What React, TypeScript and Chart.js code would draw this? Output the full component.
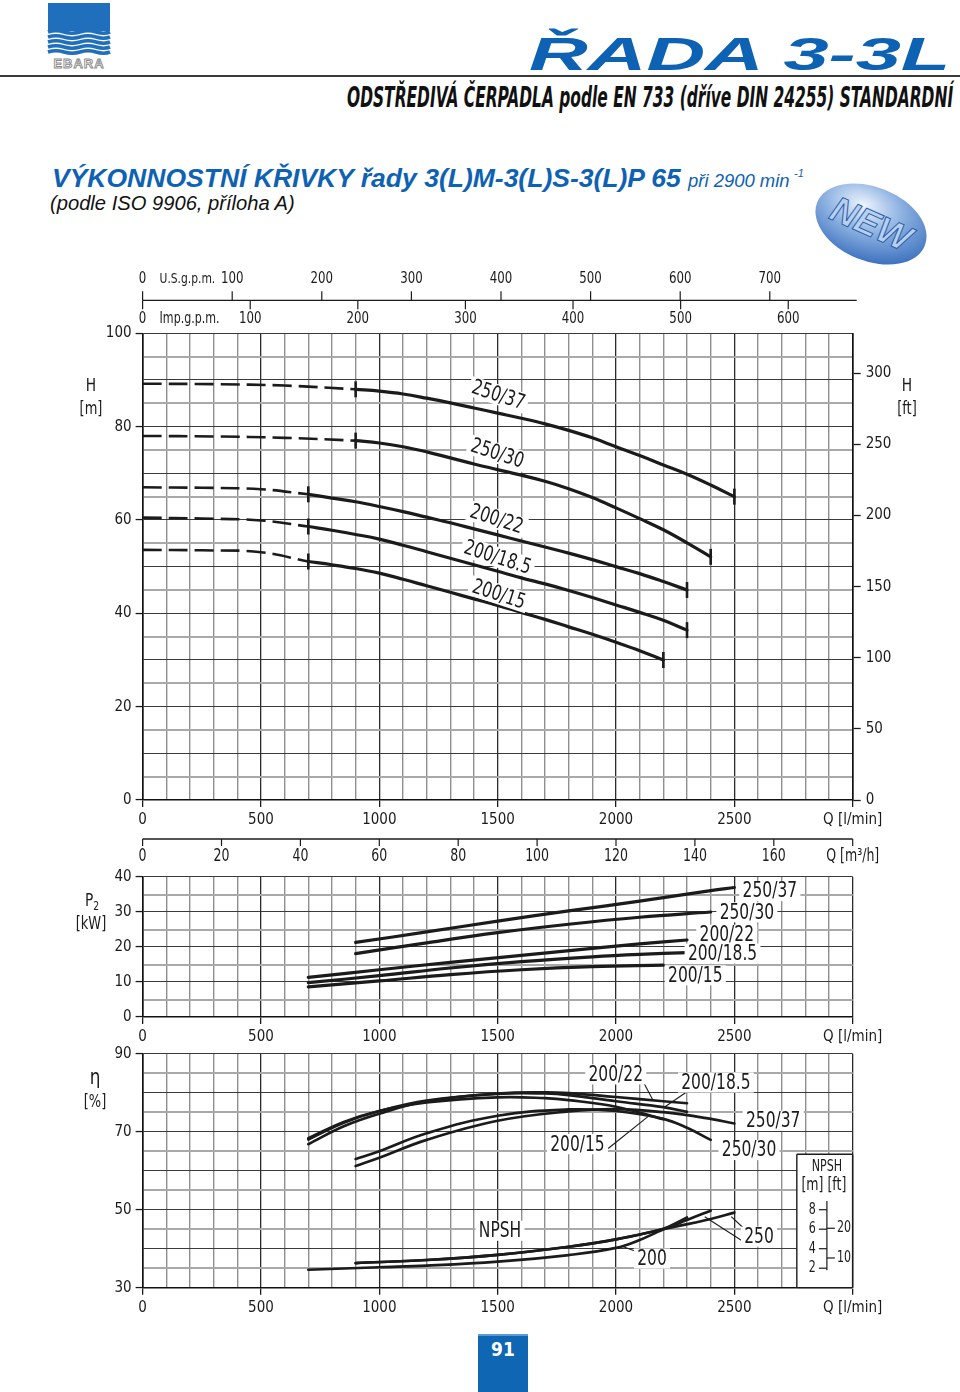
import React, { useEffect, useLayoutEffect, useRef, useState } from "react";
import { Chart, registerables } from "chart.js";

Chart.register(...registerables);

const FONT = "'Liberation Sans Narrow', 'DejaVu Sans Condensed', 'Liberation Sans', Arial, sans-serif";
const SANS = "'Liberation Sans', Arial, sans-serif";
const BLUE = "#0e62b3";
const INK = "#1b1b1b";
const NARROW = 0.82;

// ---------- flow axis (l/min) ----------
const Q_MAX = 3000;
const Q_STEP = 100;
const Q_LABEL_STEP = 500;

// secondary flow units
const LPM_PER_USGPM = 3.785411784;
const LPM_PER_IMPGPM = 4.54609;
const LPM_PER_M3H = 1000 / 60;
const M_PER_FT = 0.3048;
const US_GPM_TICKS = [0, 100, 200, 300, 400, 500, 600, 700];
const IMP_GPM_TICKS = [0, 100, 200, 300, 400, 500, 600];
const M3H_TICKS = [0, 20, 40, 60, 80, 100, 120, 140, 160, 180];
const FT_STEP = 50;
const NPSH_M_TICKS = [2, 4, 6, 8];
const NPSH_FT_TICKS = [10, 20];

// ---------- H-Q : shut-off (dashed) parts ----------
const Q_SHUT_250 = [0, 300, 600, 900];
const H_SHUT_250_37 = [89.2, 89.1, 88.8, 88.0];
const H_SHUT_250_30 = [78.0, 77.9, 77.6, 77.0];
const Q_SHUT_200 = [0, 250, 500, 700];
const H_SHUT_200_22 = [67.0, 66.9, 66.6, 65.5];
const H_SHUT_200_18 = [60.5, 60.3, 59.9, 58.6];
const H_SHUT_200_15 = [53.6, 53.5, 53.1, 51.1];

// ---------- H-Q : operating range ----------
const Q_H_250_37 = [900, 1000, 1100, 1200, 1300, 1400, 1500, 1600, 1700, 1800, 1900, 2000, 2100, 2200, 2300, 2400, 2500];
const H_250_37 = [88.0, 87.6, 87.0, 86.1, 85.1, 84.0, 82.9, 81.8, 80.6, 79.2, 77.6, 75.7, 73.8, 71.8, 69.8, 67.5, 65.0];
const Q_H_250_30 = [900, 1000, 1100, 1200, 1300, 1400, 1500, 1600, 1700, 1800, 1900, 2000, 2100, 2200, 2300, 2400];
const H_250_30 = [77.0, 76.5, 75.7, 74.6, 73.3, 72.0, 70.8, 69.6, 68.3, 66.7, 64.8, 62.6, 60.3, 57.9, 55.1, 52.1];
const Q_H_200 = [700, 800, 900, 1000, 1100, 1200, 1300, 1400, 1500, 1600, 1700, 1800, 1900, 2000, 2100, 2200, 2300];
const H_200_22 = [65.5, 64.7, 63.9, 62.9, 61.8, 60.6, 59.4, 58.1, 56.8, 55.5, 54.2, 52.9, 51.5, 50.0, 48.5, 46.8, 45.0];
const H_200_18 = [58.6, 57.8, 56.9, 55.9, 54.6, 53.2, 51.8, 50.4, 49.0, 47.6, 46.3, 44.9, 43.4, 41.8, 40.2, 38.5, 36.4];
const Q_H_200_15 = [700, 800, 900, 1000, 1100, 1200, 1300, 1400, 1500, 1600, 1700, 1800, 1900, 2000, 2100, 2200];
const H_200_15 = [51.1, 50.4, 49.6, 48.6, 47.3, 45.9, 44.5, 43.1, 41.7, 40.2, 38.7, 37.1, 35.5, 33.8, 32.0, 30.0];

const H_LABELS = [
  { text: "250/37", q: 1503, v: 86.8 },
  { text: "250/30", q: 1499, v: 74.3 },
  { text: "200/22", q: 1496, v: 60.2 },
  { text: "200/18.5", q: 1500, v: 52.0 },
  { text: "200/15", q: 1505, v: 44.1 },
];
const H_LABEL_ANGLE = 18;

// ---------- P2-Q ----------
const Q_P_250_37 = [900, 1200, 1500, 1800, 2100, 2400, 2500];
const P_250_37 = [21.3, 24.3, 27.4, 30.3, 33.1, 36.1, 37.0];
const Q_P_250_30 = [900, 1200, 1500, 1800, 2100, 2400];
const P_250_30 = [18.1, 21.2, 24.1, 26.5, 28.5, 30.0];
const Q_P_200 = [700, 1000, 1300, 1600, 1900, 2100, 2300];
const P_200_22 = [11.3, 13.5, 15.6, 17.6, 19.6, 20.9, 22.0];
const P_200_18 = [9.8, 11.8, 14.0, 15.8, 17.2, 17.9, 18.4];
const Q_P_200_15 = [700, 1000, 1300, 1600, 1900, 2200];
const P_200_15 = [8.6, 10.3, 12.1, 13.5, 14.4, 14.8];

const P_LABELS = [
  { text: "250/37", q: 2650, v: 36.0 },
  { text: "250/30", q: 2553, v: 29.9 },
  { text: "200/22", q: 2468, v: 23.5 },
  { text: "200/18.5", q: 2450, v: 18.1 },
  { text: "200/15", q: 2335, v: 11.9 },
];

// ---------- efficiency ----------
const Q_E_200 = [700, 850, 1000, 1200, 1500, 1700, 1800, 2000, 2200, 2300];
const E_200_22 = [66.8, 71.4, 74.6, 77.8, 79.8, 80.1, 79.9, 78.9, 77.8, 77.3];
const E_200_18 = [68.0, 72.3, 75.3, 78.0, 79.7, 79.8, 79.4, 77.8, 76.3, 75.1];
const Q_E_200_15 = [700, 850, 1000, 1200, 1500, 1700, 1800, 2000, 2200];
const E_200_15 = [68.3, 72.5, 75.3, 77.5, 78.8, 78.6, 78.1, 76.4, 73.2];
const Q_E_250_30 = [900, 1000, 1200, 1500, 1800, 2000, 2200, 2300, 2400];
const E_250_30 = [63.0, 65.0, 69.6, 74.1, 75.7, 75.3, 73.3, 71.0, 67.9];
const Q_E_250_37 = [900, 1000, 1200, 1500, 1800, 2000, 2200, 2400, 2500];
const E_250_37 = [61.2, 63.3, 67.9, 72.8, 75.2, 75.8, 75.0, 73.3, 72.1];

// ---------- NPSH (m) ----------
const NPSH_MAX = 24; // 0..24 m spans the 30..90 % efficiency grid
const Q_N_200 = [700, 1000, 1200, 1500, 1800, 2000, 2100, 2200, 2300];
const N_200 = [1.84, 2.1, 2.26, 2.67, 3.35, 4.08, 4.9, 6.0, 7.2];
const Q_N_250_37 = [900, 1200, 1500, 1800, 2000, 2200, 2400, 2500];
const N_250_37 = [2.53, 2.84, 3.37, 4.2, 4.96, 6.0, 7.05, 7.7];
const Q_N_250_30 = [900, 1200, 1500, 1800, 2000, 2200, 2300, 2400];
const N_250_30 = [2.53, 2.84, 3.37, 4.2, 4.96, 6.05, 6.95, 7.9];

// annotations on efficiency chart (Q, eta)
const E_LABELS = [
  { text: "200/22", q: 1999, v: 84.7, from: [2115, 82.8], to: [2158, 77.9] },
  { text: "200/18.5", q: 2422, v: 82.6, from: [2306, 80.5], to: [2207, 76.4] },
  { text: "200/15", q: 1837, v: 66.8, from: [1967, 65.7], to: [2144, 74.3] },
  { text: "250/37", q: 2664, v: 72.8 },
  { text: "250/30", q: 2562, v: 65.3 },
  { text: "NPSH", q: 1510, v: 44.6 },
  { text: "200", q: 2152, v: 37.5, from: [2089, 39.2], to: [2022, 40.7] },
  { text: "250", q: 2604, v: 43.1, from: [2539, 41.8], to: [2375, 48.2] },
  { text: "", q: 0, v: 0, from: [2551, 44.6], to: [2487, 48.2] },
];
const INSET_Q = 2764;
const INSET_ETA = 64.2;
const NPSH_AXIS_Q = 2891;
const NPSH_AXIS_RANGE = [1.8, 8.9];

// ---------------- helpers ----------------
const xy = (qs: number[], vs: number[]) => qs.map((q, i) => ({ x: q, y: vs[i] }));

const solid = (qs: number[], vs: number[], extra: any = {}) => ({
  data: xy(qs, vs),
  borderColor: INK,
  borderWidth: 3.2,
  pointRadius: 0,
  fill: false,
  tension: 0.4,
  borderCapStyle: "round",
  ...extra,
});
const dashed = (qs: number[], vs: number[]) =>
  solid(qs, vs, { borderDash: [19, 7], borderWidth: 2.6, borderCapStyle: "butt" });

function qAxis(height: number) {
  return {
    type: "linear",
    position: "bottom",
    min: 0,
    max: Q_MAX,
    afterFit: (s: any) => {
      s.height = height;
    },
    ticks: {
      stepSize: Q_STEP,
      autoSkip: false,
      maxRotation: 0,
      padding: 4,
      color: INK,
      font: { family: FONT, size: 15 },
      callback: (v: number) => (v % Q_LABEL_STEP === 0 ? (v === Q_MAX ? "Q [l/min]" : String(v)) : ""),
    },
    grid: {
      color: (c: any) => (c.tick && c.tick.value % Q_LABEL_STEP === 0 ? "#2b2b2b" : "#8f8f8f"),
      lineWidth: (c: any) => (c.tick && c.tick.value % Q_LABEL_STEP === 0 ? 1.3 : 1.4),
      tickLength: 7,
      tickWidth: 1.3,
      tickColor: (c: any) => (c.tick && c.tick.value % Q_LABEL_STEP === 0 ? INK : "rgba(0,0,0,0)"),
    },
    border: { color: "#111", width: 1.6 },
  };
}

function vAxis(min: number, max: number, step: number, every: number, width: number) {
  return {
    type: "linear",
    position: "left",
    min,
    max,
    afterFit: (s: any) => {
      s.width = width;
    },
    ticks: {
      stepSize: step,
      autoSkip: false,
      padding: 4,
      color: INK,
      font: { family: FONT, size: 15 },
      callback: (v: number) => ((v - min) % every === 0 ? String(v) : ""),
    },
    grid: {
      color: (c: any) => (c.tick && c.tick.value % 10 === 0 ? "#3a3a3a" : "#a9a9a9"),
      lineWidth: (c: any) => (c.tick && c.tick.value % 10 === 0 ? 1.1 : 2),
      tickLength: 7,
      tickWidth: 1.3,
      tickColor: (c: any) => (c.tick && (c.tick.value - min) % every === 0 ? INK : "rgba(0,0,0,0)"),
    },
    border: { color: "#111", width: 1.6 },
  };
}

function boxLabel(ctx: CanvasRenderingContext2D, text: string, x: number, y: number, size: number, angle = 0) {
  ctx.save();
  ctx.translate(x, y);
  ctx.rotate((angle * Math.PI) / 180);
  ctx.scale(NARROW, 1);
  ctx.font = `${size}px ${FONT}`;
  const w = ctx.measureText(text).width;
  ctx.fillStyle = "#fff";
  ctx.fillRect(-w / 2 - 4, -size * 0.48, w + 8, size * 0.96);
  ctx.fillStyle = INK;
  ctx.textAlign = "center";
  ctx.textBaseline = "middle";
  ctx.fillText(text, 0, 1);
  ctx.restore();
}

function line(ctx: CanvasRenderingContext2D, x1: number, y1: number, x2: number, y2: number, w = 1.2) {
  ctx.beginPath();
  ctx.lineWidth = w;
  ctx.strokeStyle = INK;
  ctx.moveTo(x1, y1);
  ctx.lineTo(x2, y2);
  ctx.stroke();
}

function text(ctx: CanvasRenderingContext2D, t: string, x: number, y: number, align: CanvasTextAlign = "center", size = 16) {
  ctx.save();
  ctx.translate(x, y);
  ctx.scale(NARROW, 1);
  ctx.font = `${size}px ${FONT}`;
  ctx.fillStyle = INK;
  ctx.textAlign = align;
  ctx.textBaseline = "middle";
  ctx.fillText(t, 0, 0);
  ctx.restore();
}

// ---------------- plugins ----------------
const hDeco = {
  id: "hDeco",
  afterDatasetsDraw(chart: any) {
    const { ctx, chartArea: ca, scales } = chart;
    const x = scales.x;
    const y = scales.y;
    ctx.save();
    // end marks of operating range
    chart.data.datasets.forEach((ds: any, i: number) => {
      if (!ds.endMarks) return;
      const pts = chart.getDatasetMeta(i).data;
      [pts[0], pts[pts.length - 1]].forEach((p: any) => line(ctx, p.x, p.y - 8, p.x, p.y + 8, 2.6));
    });
    H_LABELS.forEach((l) => boxLabel(ctx, l.text, x.getPixelForValue(l.q), y.getPixelForValue(l.v), 21, H_LABEL_ANGLE));

    // U.S. / Imp. gpm axis above the chart
    const yl = ca.top - 33;
    line(ctx, ca.left, yl, ca.right + 4, yl, 1.3);
    US_GPM_TICKS.forEach((g) => {
      const px = x.getPixelForValue(g * LPM_PER_USGPM);
      line(ctx, px, yl, px, yl - 9, 1.2);
      text(ctx, String(g), px, ca.top - 54);
    });
    text(ctx, "U.S.g.p.m.", ca.left + 17, ca.top - 54, "left", 14.5);
    IMP_GPM_TICKS.forEach((g) => {
      const px = x.getPixelForValue(g * LPM_PER_IMPGPM);
      line(ctx, px, yl, px, yl + 9, 1.2);
      text(ctx, String(g), px, ca.top - 14);
    });
    text(ctx, "Imp.g.p.m.", ca.left + 17, ca.top - 14, "left", 15);

    // m3/h axis below the chart
    const yb = ca.bottom + 39;
    line(ctx, ca.left, yb, ca.right, yb, 1.3);
    M3H_TICKS.forEach((m) => {
      const px = x.getPixelForValue(m * LPM_PER_M3H);
      line(ctx, px, yb, px, yb + 7, 1.2);
      text(ctx, m === 180 ? "Q [m³/h]" : String(m), px, ca.bottom + 57, "center", 17);
    });
    ctx.restore();
  },
};

const pDeco = {
  id: "pDeco",
  afterDatasetsDraw(chart: any) {
    const { ctx, scales } = chart;
    ctx.save();
    P_LABELS.forEach((l) => boxLabel(ctx, l.text, scales.x.getPixelForValue(l.q), scales.y.getPixelForValue(l.v), 21));
    ctx.restore();
  },
};

const eDeco = {
  id: "eDeco",
  beforeDatasetsDraw(chart: any) {
    const { ctx, chartArea: ca, scales } = chart;
    const x = scales.x;
    const y = scales.y;
    const l = x.getPixelForValue(INSET_Q);
    const t = y.getPixelForValue(INSET_ETA);
    ctx.save();
    ctx.fillStyle = "#fff";
    ctx.fillRect(l, t, ca.right - l + 1, ca.bottom - t + 1);
    line(ctx, l, t, ca.right, t, 1.4);
    line(ctx, l, t, l, ca.bottom, 1.4);
    line(ctx, ca.right, t, ca.right, ca.bottom, 1.6);
    line(ctx, l, ca.bottom, ca.right, ca.bottom, 1.6);
    ctx.restore();
  },
  afterDatasetsDraw(chart: any) {
    const { ctx, scales } = chart;
    const x = scales.x;
    const y = scales.y;
    const yN = scales.yN;
    ctx.save();
    // NPSH scale inside the inset
    const ax = x.getPixelForValue(NPSH_AXIS_Q);
    line(ctx, ax, yN.getPixelForValue(NPSH_AXIS_RANGE[1]), ax, yN.getPixelForValue(NPSH_AXIS_RANGE[0]), 1.2);
    NPSH_M_TICKS.forEach((m) => {
      const py = yN.getPixelForValue(m);
      line(ctx, ax - 8, py, ax, py, 1.2);
      text(ctx, String(m), ax - 11, py, "right", 15);
    });
    NPSH_FT_TICKS.forEach((f) => {
      const py = yN.getPixelForValue(f * M_PER_FT);
      line(ctx, ax, py, ax + 8, py, 1.2);
      text(ctx, String(f), ax + 10, py, "left", 15);
    });
    text(ctx, "NPSH", ax, y.getPixelForValue(60.9), "center", 15);
    text(ctx, "[m] [ft]", ax - 3, y.getPixelForValue(56.3), "center", 17);

    E_LABELS.forEach((a) => {
      if (a.from && a.to)
        line(ctx, x.getPixelForValue(a.from[0]), y.getPixelForValue(a.from[1]), x.getPixelForValue(a.to[0]), y.getPixelForValue(a.to[1]), 1.1);
    });
    E_LABELS.forEach((a) => {
      if (a.text) boxLabel(ctx, a.text, x.getPixelForValue(a.q), y.getPixelForValue(a.v), 21);
    });
    ctx.restore();
  },
};

const baseOptions = (padTop: number, padRight: number) => ({
  responsive: false,
  animation: false,
  events: [],
  layout: { padding: { top: padTop, right: padRight, left: 0, bottom: 0 } },
  plugins: { legend: { display: false }, tooltip: { enabled: false } },
});

const hConfig = () => ({
  type: "line",
  data: {
    datasets: [
      dashed(Q_SHUT_250, H_SHUT_250_37),
      dashed(Q_SHUT_250, H_SHUT_250_30),
      dashed(Q_SHUT_200, H_SHUT_200_22),
      dashed(Q_SHUT_200, H_SHUT_200_18),
      dashed(Q_SHUT_200, H_SHUT_200_15),
      solid(Q_H_250_37, H_250_37, { endMarks: true }),
      solid(Q_H_250_30, H_250_30, { endMarks: true }),
      solid(Q_H_200, H_200_22, { endMarks: true }),
      solid(Q_H_200, H_200_18, { endMarks: true }),
      solid(Q_H_200_15, H_200_15, { endMarks: true }),
    ],
  },
  options: {
    ...baseOptions(78.3, 0),
    scales: {
      x: qAxis(70),
      y: vAxis(0, 100, 5, 20, 142.6),
      yft: {
        type: "linear",
        position: "right",
        min: 0,
        max: 100 / M_PER_FT,
        afterFit: (s: any) => {
          s.width = 107.3;
        },
        ticks: {
          stepSize: FT_STEP,
          includeBounds: false,
          padding: 5,
          color: INK,
          font: { family: FONT, size: 15 },
        },
        grid: { drawOnChartArea: false, tickLength: 8, tickWidth: 1.3, tickColor: INK },
        border: { color: "#111", width: 1.6 },
      },
    },
  },
  plugins: [hDeco],
});

const pConfig = () => ({
  type: "line",
  data: {
    datasets: [
      solid(Q_P_250_37, P_250_37),
      solid(Q_P_250_30, P_250_30),
      solid(Q_P_200, P_200_22),
      solid(Q_P_200, P_200_18),
      solid(Q_P_200_15, P_200_15),
    ],
  },
  options: {
    ...baseOptions(12, 107.3),
    scales: { x: qAxis(33), y: vAxis(0, 40, 5, 10, 142.6) },
  },
  plugins: [pDeco],
});

const eConfig = () => ({
  type: "line",
  data: {
    datasets: [
      solid(Q_E_200, E_200_22, { borderWidth: 2.7 }),
      solid(Q_E_200, E_200_18, { borderWidth: 2.7 }),
      solid(Q_E_200_15, E_200_15, { borderWidth: 2.7 }),
      solid(Q_E_250_30, E_250_30, { borderWidth: 2.7 }),
      solid(Q_E_250_37, E_250_37, { borderWidth: 2.7 }),
      solid(Q_N_200, N_200, { borderWidth: 2.7, yAxisID: "yN" }),
      solid(Q_N_250_37, N_250_37, { borderWidth: 2.7, yAxisID: "yN" }),
      solid(Q_N_250_30, N_250_30, { borderWidth: 2.7, yAxisID: "yN" }),
    ],
  },
  options: {
    ...baseOptions(13.7, 107.3),
    scales: {
      x: qAxis(32.3),
      y: vAxis(30, 90, 5, 20, 142.6),
      yN: { type: "linear", min: 0, max: NPSH_MAX, display: false },
    },
  },
  plugins: [eDeco],
});

function ChartCanvas({ top, height, make }: { top: number; height: number; make: () => any }) {
  const ref = useRef<HTMLCanvasElement>(null);
  useEffect(() => {
    const chart = new Chart(ref.current as HTMLCanvasElement, make());
    return () => chart.destroy();
  }, []);
  return (
    <canvas
      ref={ref}
      width={960}
      height={height}
      style={{ position: "absolute", left: 0, top, width: 960, height }}
    />
  );
}

function FitText({ left, top, width, style, children }: any) {
  const ref = useRef<HTMLSpanElement>(null);
  const [k, setK] = useState(1);
  useLayoutEffect(() => {
    const el = ref.current;
    if (el && el.offsetWidth) setK(width / el.offsetWidth);
  }, [width]);
  return (
    <span
      ref={ref}
      style={{
        position: "absolute",
        left,
        top,
        whiteSpace: "nowrap",
        lineHeight: 1,
        transform: `scaleX(${k})`,
        transformOrigin: "left top",
        ...style,
      }}
    >
      {children}
    </span>
  );
}

const axisTitle = (x: number, y: number, size = 17): React.CSSProperties => ({
  position: "absolute",
  left: x,
  top: y,
  transform: "translate(-50%, -50%) scaleX(0.85)",
  fontFamily: FONT,
  fontSize: size,
  color: INK,
  whiteSpace: "nowrap",
  lineHeight: 1,
});

function Logo() {
  const waves = [31, 36, 41, 46, 51];
  return (
    <svg style={{ position: "absolute", left: 46, top: 1 }} width={68} height={72}>
      <rect x={2} y={2} width={62} height={28} fill="#1f6fbd" />
      {waves.map((wy, i) => (
        <path
          key={i}
          d={`M2 ${wy} Q 10 ${wy - 2.5} 18 ${wy} T 34 ${wy} T 50 ${wy} T 64 ${wy}`}
          stroke="#1f6fbd"
          strokeWidth={3.6}
          fill="none"
        />
      ))}
      <text
        x={33}
        y={67}
        textAnchor="middle"
        fontFamily={SANS}
        fontWeight="bold"
        fontSize={13}
        letterSpacing={1}
        fill="#fff"
        stroke="#8a8a8a"
        strokeWidth={0.9}
      >
        EBARA
      </text>
    </svg>
  );
}

function NewBadge() {
  return (
    <svg style={{ position: "absolute", left: 806, top: 178 }} width={130} height={92}>
      <defs>
        <radialGradient id="newg" cx="38%" cy="30%" r="75%">
          <stop offset="0" stopColor="#eef4fc" />
          <stop offset="0.45" stopColor="#8fb3e2" />
          <stop offset="1" stopColor="#3a6fbd" />
        </radialGradient>
      </defs>
      <ellipse cx={65} cy={46} rx={58} ry={37} transform="rotate(22 65 46)" fill="url(#newg)" />
      <text
        x={65}
        y={58}
        textAnchor="middle"
        transform="rotate(24 65 46)"
        fontFamily={SANS}
        fontStyle="italic"
        fontWeight="bold"
        fontSize={36}
        fill="#b7d0ef"
        stroke="#2c5fa8"
        strokeWidth={1}
      >
        NEW
      </text>
    </svg>
  );
}

export default function App() {
  useLayoutEffect(() => {
    document.body.style.margin = "0";
  }, []);
  return (
    <div style={{ position: "relative", width: 960, height: 1392, overflow: "hidden", background: "#fff" }}>
      <Logo />
      <FitText
        left={529}
        top={30}
        width={422}
        style={{ fontFamily: SANS, fontWeight: "bold", fontStyle: "italic", fontSize: 47, color: BLUE }}
      >
        ŘADA 3-3L
      </FitText>
      <div style={{ position: "absolute", left: 0, top: 75, width: 960, height: 2, background: "#3a3a3a" }} />
      <FitText
        left={347}
        top={84}
        width={606}
        style={{ fontFamily: FONT, fontWeight: "bold", fontStyle: "italic", fontSize: 28, color: "#111" }}
      >
        ODSTŘEDIVÁ ČERPADLA podle EN 733 (dříve DIN 24255) STANDARDNÍ
      </FitText>
      <FitText
        left={52}
        top={165}
        width={629}
        style={{ fontFamily: SANS, fontWeight: "bold", fontStyle: "italic", fontSize: 26, color: BLUE }}
      >
        VÝKONNOSTNÍ KŘIVKY řady 3(L)M-3(L)S-3(L)P 65
      </FitText>
      <FitText
        left={688}
        top={171}
        width={102}
        style={{ fontFamily: SANS, fontStyle: "italic", fontSize: 19, color: BLUE }}
      >
        při 2900 min
      </FitText>
      <span style={{ position: "absolute", left: 794, top: 168, fontFamily: SANS, fontStyle: "italic", fontSize: 11, color: BLUE, lineHeight: 1 }}>
        -1
      </span>
      <FitText
        left={50}
        top={193}
        width={245}
        style={{ fontFamily: SANS, fontStyle: "italic", fontSize: 20, color: "#111" }}
      >
        (podle ISO 9906, příloha A)
      </FitText>
      <NewBadge />

      <ChartCanvas top={255} height={615} make={hConfig} />
      <ChartCanvas top={864} height={186} make={pConfig} />
      <ChartCanvas top={1040} height={280} make={eConfig} />

      <div style={axisTitle(91, 385, 18)}>H</div>
      <div style={axisTitle(91, 408)}>[m]</div>
      <div style={axisTitle(907, 385, 18)}>H</div>
      <div style={axisTitle(907, 408)}>[ft]</div>
      <div style={axisTitle(92, 901, 18)}>
        P<span style={{ fontSize: 12, verticalAlign: "-4px" }}>2</span>
      </div>
      <div style={axisTitle(91, 923)}>[kW]</div>
      <div style={axisTitle(95, 1077, 22)}>η</div>
      <div style={axisTitle(95, 1101)}>[%]</div>

      <div
        style={{
          position: "absolute",
          left: 478,
          top: 1334,
          width: 50,
          height: 58,
          background: "#0f66b3",
          borderTop: "2px solid #5b9ad6",
        }}
      >
        <div
          style={{
            textAlign: "center",
            marginTop: 4,
            fontFamily: FONT,
            fontWeight: "bold",
            fontSize: 19,
            color: "#fff",
            lineHeight: 1,
          }}
        >
          91
        </div>
      </div>
    </div>
  );
}
